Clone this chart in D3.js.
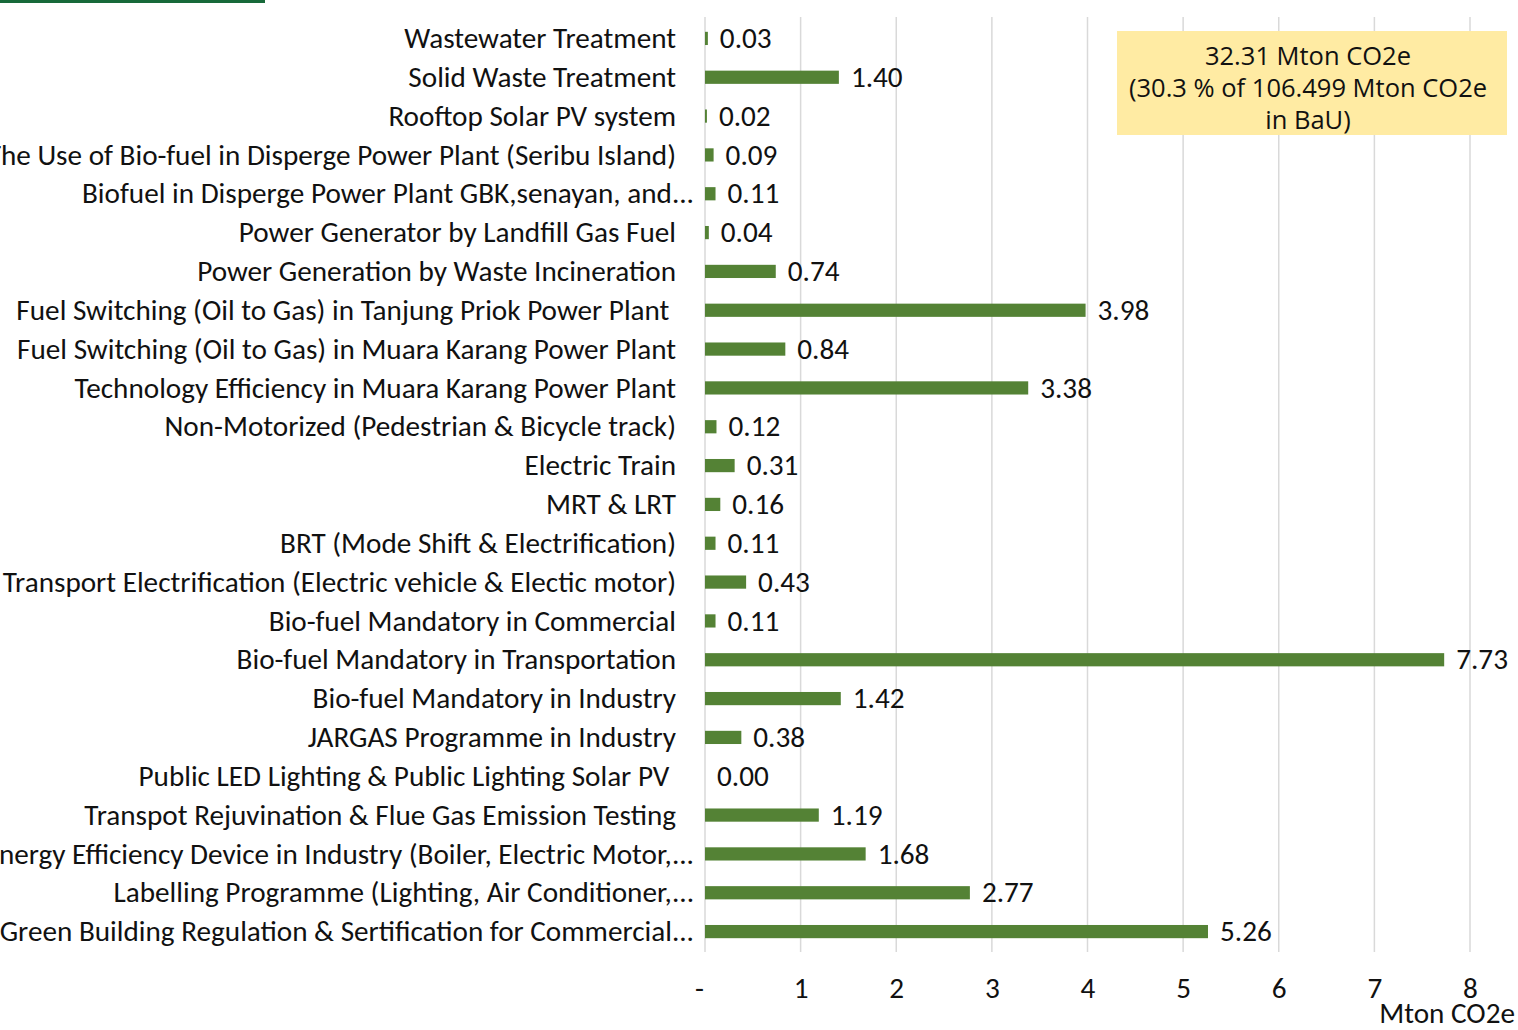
<!DOCTYPE html>
<html>
<head>
<meta charset="utf-8">
<script src="https://cdn.jsdelivr.net/npm/d3@7"></script>
<style>
  body { margin: 0; background: #fff; }
  svg { display: block; }
  text { white-space: pre; }
</style>
</head>
<body>
<svg id="chart" width="1518" height="1030"></svg>
<script>
// Data (top to bottom, as in the picture)
var categories = [
    "Wastewater Treatment",
    "Solid Waste Treatment",
    "Rooftop Solar PV system",
    "The Use of Bio-fuel in Disperge Power Plant (Seribu Island)",
    "Biofuel in Disperge Power Plant GBK,senayan, and...",
    "Power Generator by Landfill Gas Fuel",
    "Power Generation by Waste Incineration",
    "Fuel Switching (Oil to Gas) in Tanjung Priok Power Plant ",
    "Fuel Switching (Oil to Gas) in Muara Karang Power Plant",
    "Technology Efficiency in Muara Karang Power Plant",
    "Non-Motorized (Pedestrian & Bicycle track)",
    "Electric Train",
    "MRT & LRT",
    "BRT (Mode Shift & Electrification)",
    "Transport Electrification (Electric vehicle & Electic motor)",
    "Bio-fuel Mandatory in Commercial",
    "Bio-fuel Mandatory in Transportation",
    "Bio-fuel Mandatory in Industry",
    "JARGAS Programme in Industry",
    "Public LED Lighting & Public Lighting Solar PV ",
    "Transpot Rejuvination & Flue Gas Emission Testing",
    "Energy Efficiency Device in Industry (Boiler, Electric Motor,...",
    "Labelling Programme (Lighting, Air Conditioner,...",
    "Green Building Regulation & Sertification for Commercial..."
];
var values = [0.03, 1.40, 0.02, 0.09, 0.11, 0.04, 0.74, 3.98, 0.84, 3.38,
              0.12, 0.31, 0.16, 0.11, 0.43, 0.11, 7.73, 1.42, 0.38, 0.00,
              1.19, 1.68, 2.77, 5.26];
var xTicks = [0, 1, 2, 3, 4, 5, 6, 7, 8];
var noteLines = ["32.31 Mton CO2e", "(30.3 % of 106.499 Mton CO2e", "in BaU)"];
var axisTitle = "Mton CO2e";

var svg = d3.select("#chart");

var style = {
    bar: "#548235",
    grid: "#d9d9d9",
    font: "Calibri, Carlito, sans-serif",
    size: 29.2
};

var x = d3.scaleLinear().domain([0, 8]).range([705, 1470]);
var y = d3.scaleBand().domain(categories).range([19, 951]).paddingInner(0.66).paddingOuter(0.33);

// top accent line
svg.append("rect").attr("x", 0).attr("y", 0).attr("width", 265).attr("height", 3).attr("fill", "#17693a");

// gridlines
svg.append("g").selectAll("line").data(xTicks).join("line")
    .attr("x1", function(d) { return x(d); })
    .attr("x2", function(d) { return x(d); })
    .attr("y1", 17)
    .attr("y2", 952)
    .attr("stroke", style.grid)
    .attr("stroke-width", 1.5);

// bars
svg.append("g").selectAll("rect").data(values).join("rect")
    .attr("x", x(0))
    .attr("y", function(d, i) { return y(categories[i]); })
    .attr("width", function(d) { return x(d) - x(0); })
    .attr("height", y.bandwidth())
    .attr("fill", style.bar);

// value labels
svg.append("g").selectAll("text").data(values).join("text")
    .attr("x", function(d) { return x(d) + 12; })
    .attr("y", function(d, i) { return y(categories[i]) + y.bandwidth() / 2; })
    .attr("dy", "0.33em")
    .attr("font-family", style.font)
    .attr("font-size", style.size)
    .attr("fill", "#111")
    .text(function(d) { return d.toFixed(2); });

// category labels (truncated ones run a little further right, as Excel draws them)
svg.append("g").selectAll("text").data(categories).join("text")
    .attr("x", function(d) { return /\.\.\.$/.test(d) ? 694 : 676; })
    .attr("y", function(d) { return y(d) + y.bandwidth() / 2; })
    .attr("dy", "0.33em")
    .attr("text-anchor", "end")
    .attr("font-family", style.font)
    .attr("font-size", style.size)
    .attr("fill", "#111")
    .text(function(d) { return d; });

// x axis
var xAxis = d3.axisBottom(x).tickValues(xTicks).tickSize(0).tickPadding(0)
    .tickFormat(function(d) { return d === 0 ? "-" : d; });
var gx = svg.append("g").attr("transform", "translate(0,979)").call(xAxis);
gx.select(".domain").remove();
gx.selectAll("text")
    .attr("font-family", style.font)
    .attr("font-size", style.size)
    .attr("fill", "#111")
    .attr("dy", "0.66em")
    .attr("dx", function(d) { return d === 0 ? -6 : 0; });

svg.append("text")
    .attr("x", 1515)
    .attr("y", 1023)
    .attr("text-anchor", "end")
    .attr("font-family", style.font)
    .attr("font-size", style.size)
    .attr("fill", "#111")
    .text(axisTitle);

// annotation box
var note = svg.append("g");
note.append("rect")
    .attr("x", 1117).attr("y", 31).attr("width", 390).attr("height", 104)
    .attr("fill", "#ffeba3");
note.selectAll("text").data(noteLines).join("text")
    .attr("x", 1308)
    .attr("y", function(d, i) { return 65 + i * 32; })
    .attr("text-anchor", "middle")
    .attr("font-family", "'Open Sans', 'Liberation Sans', sans-serif")
    .attr("font-size", 25.5)
    .attr("fill", "#111")
    .text(function(d) { return d; });
</script>
</body>
</html>
